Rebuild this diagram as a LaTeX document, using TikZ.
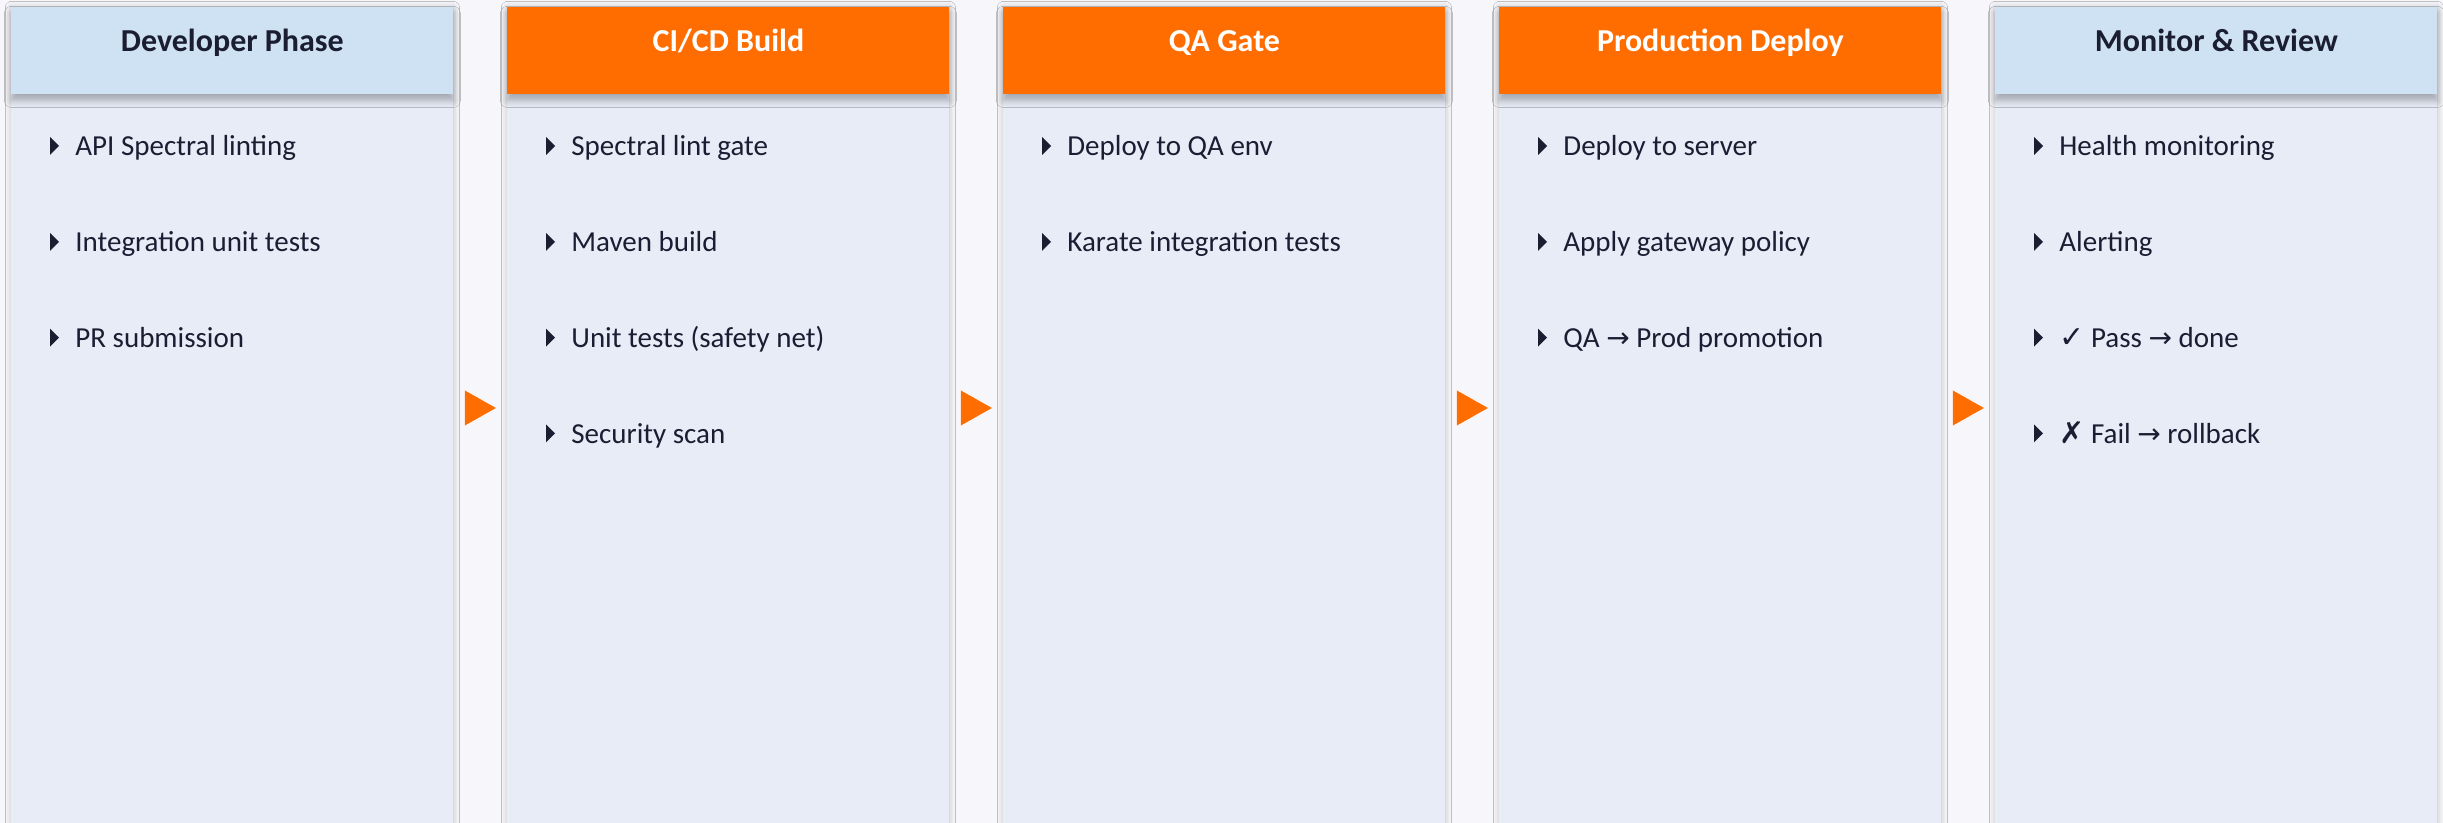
\documentclass[tikz,border=0pt]{standalone}
\usepackage{fontspec}
\setmainfont{Carlito}
\newfontfamily\symfont{DejaVu Sans}
\usetikzlibrary{calc, positioning, shadows.blur}

\definecolor{pagebg}{HTML}{F7F7FB}
\definecolor{lanebg}{HTML}{E8ECF7}
\definecolor{headblue}{HTML}{CFE2F3}
\definecolor{headorange}{HTML}{FF6C00}
\definecolor{ink}{HTML}{1B1E33}

\newcommand{\arr}{{\symfont\fontsize{14}{16}\selectfont →}}
\newcommand{\ok}{{\symfont\fontsize{15}{16}\selectfont ✓}}
\newcommand{\ko}{{\symfont\fontsize{15}{16}\selectfont ✗}}

\begin{document}
\begin{tikzpicture}[x=0.5pt, y=-0.5pt]
	\tikzset{lane/.style = {fill=lanebg, minimum width=221pt, minimum height=422pt, anchor=north west, inner sep=0pt,
			blur shadow={shadow xshift=0pt, shadow yshift=0pt, shadow blur radius=3pt, shadow opacity=22}}}
	\tikzset{head/.style = {minimum width=221pt, minimum height=43.5pt, anchor=north west, inner sep=0pt,
			blur shadow={shadow xshift=0pt, shadow yshift=-3pt, shadow blur radius=3.5pt, shadow opacity=30}}}
	\tikzset{title/.style = {font=\fontsize{16}{19}\selectfont\bfseries, anchor=base, inner sep=0pt}}
	\tikzset{item/.style = {font=\fontsize{14.5}{17}\selectfont, text=ink, anchor=base west, inner sep=0pt}}
	\tikzset{flowtip/.style = {fill=headorange}}

	\fill[pagebg] (0,0) rectangle (2443,823);
	\useasboundingbox (0,0) rectangle (2443,823);

	% one lane per phase: header box, then the bullet list
	\foreach \n/\hcol/\tcol/\title/\items [evaluate=\n as \lx using 11+496*(\n-1)] in {
		1/headblue/ink/Developer Phase/{API Spectral linting, Integration unit tests, PR submission},
		2/headorange/white/{CI/CD Build}/{Spectral lint gate, Maven build, Unit tests (safety net), Security scan},
		3/headorange/white/QA Gate/{Deploy to QA env, Karate integration tests},
		4/headorange/white/Production Deploy/{Deploy to server, Apply gateway policy, QA \arr{} Prod promotion},
		5/headblue/ink/Monitor \& Review/{Health monitoring, Alerting, \ok{} Pass \arr{} done, \ko{} Fail \arr{} rollback}} {
		\node[lane] (lane\n) at (\lx, 7) {};
		\node[head, fill=\hcol] (head\n) at (\lx, 7) {};
		\node[title, text=\tcol] (title\n) at ($(head\n.north)+(0,45)$) {\title};
		\foreach \t [count=\j, evaluate=\j as \yy using 156+95.8*(\j-1)] in \items {
			\node[item] (item\n-\j) at (\lx+64, \yy) {\t};
			\fill[ink] ($(item\n-\j.base west)+(-25,-19)$) -- ++(9,9) -- ++(-9,9) -- cycle;
		}
	}

	% orange flow tips in the gaps
	\foreach \a/\b in {1/2, 2/3, 3/4, 4/5} {
		\coordinate (tip\a) at ($($(lane\a.north east)!0.5!(lane\b.north west)$)+(0,401)$);
		\fill[flowtip] ($(tip\a)+(-15.5,-17.5)$) -- ($(tip\a)+(15.5,0)$) -- ($(tip\a)+(-15.5,17.5)$) -- cycle;
	}
\end{tikzpicture}
\end{document}
